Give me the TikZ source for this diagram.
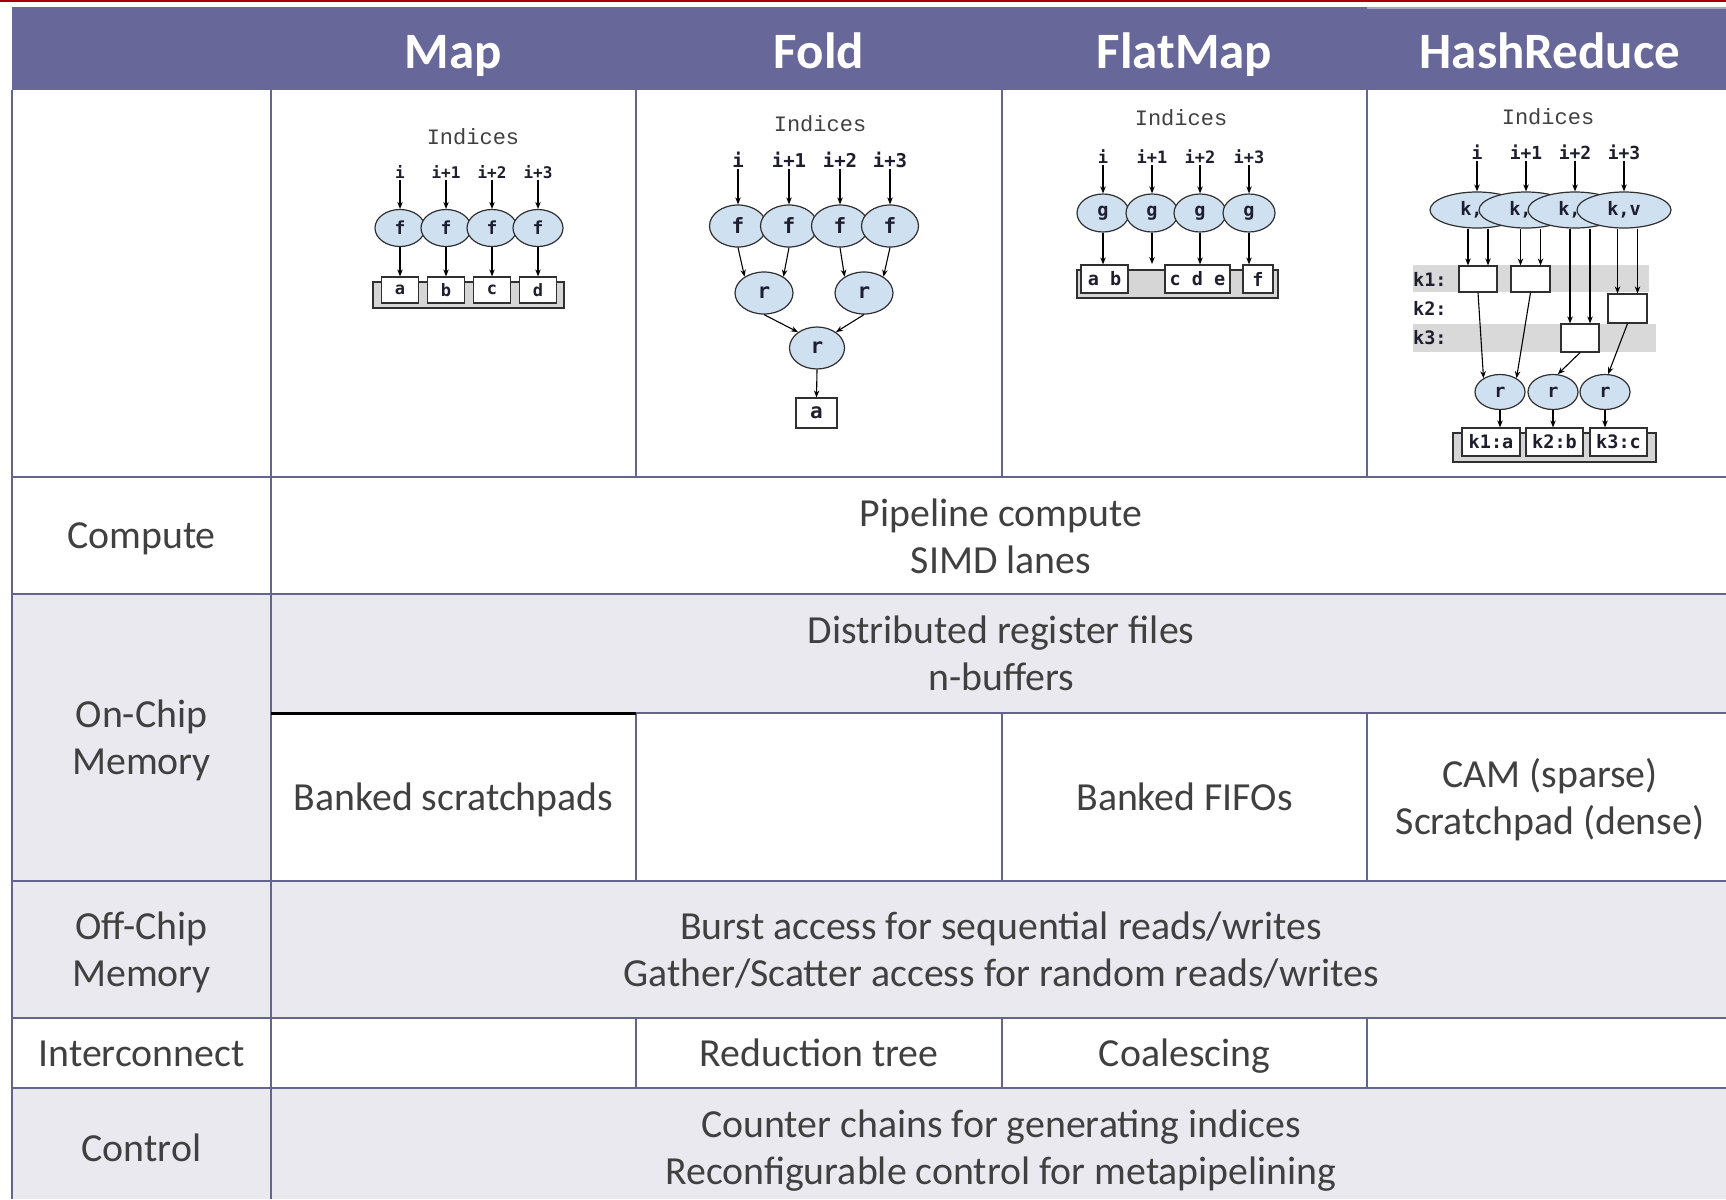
\documentclass[tikz,border=0pt]{standalone}
\usepackage{fontspec}
\setmainfont{Carlito}
\newfontfamily\dmono{DejaVu Sans Mono}
\newfontfamily\cour{Liberation Mono}
\usetikzlibrary{shapes.geometric,arrows.meta,calc}
\definecolor{hdr}{HTML}{676899}
\definecolor{hdrlight}{HTML}{A6A6C4}
\definecolor{grid}{HTML}{64648F}
\definecolor{rowgray}{HTML}{E9E9EF}
\definecolor{txt}{HTML}{404040}
\definecolor{ellfill}{HTML}{CFE0F1}
\definecolor{ellline}{HTML}{303030}
\definecolor{contfill}{HTML}{D6D6D6}
\definecolor{bandgray}{HTML}{D9D9D9}
\definecolor{redline}{HTML}{A80000}
\definecolor{dtxt}{HTML}{1E1E2E}
\tikzset{
  body/.style={font=\fontsize{39.8}{47.5}\selectfont, text=txt, inner sep=0pt, anchor=base},
  head/.style={font=\fontsize{51}{60}\selectfont\bfseries, text=white, inner sep=0pt, anchor=base},
  gline/.style={draw=grid, line width=2pt},
  idx/.style={font=\cour\fontsize{22}{24}\selectfont, text=black!75, inner sep=0pt},
  lab/.style={font=\dmono\bfseries\fontsize{#1}{#1}\selectfont, text=dtxt, inner sep=1pt},
  ell/.style 2 args={ellipse, draw=ellline, fill=ellfill, line width=1.2pt, inner sep=0pt, minimum width=#1, minimum height=#2},
  obox/.style 2 args={draw=ellline, fill=white, line width=1.2pt, inner sep=0pt, minimum width=#1, minimum height=#2},
  cont/.style 2 args={draw=ellline, fill=contfill, line width=1.2pt, inner sep=0pt, minimum width=#1, minimum height=#2},
  arr/.style={-{Stealth[length=7pt,width=5.5pt]}, line width=1.1pt, draw=black},
}
\begin{document}
\begin{tikzpicture}[x=1pt,y=-1pt]
\useasboundingbox (0,0) rectangle (1726,1199);
\fill[white] (0,0) rectangle (1726,1199);
\fill[redline] (0,0) rectangle (1726,2.5);
\fill[hdr] (12,7) rectangle (1726,90);
\fill[hdrlight] (1367,7) rectangle (1726,9.5);
\fill[rowgray] (12,594) rectangle (1726,881);
\fill[white] (271,713) rectangle (1726,881);
\fill[rowgray] (12,881) rectangle (1726,1018);
\fill[rowgray] (12,1088) rectangle (1726,1199);
% grid
\draw[gline] (12,90) -- (12,1199);
\draw[gline] (271,90) -- (271,1199);
\foreach \x in {636,1002,1367} {
  \draw[gline] (\x,90) -- (\x,477);
  \draw[gline] (\x,713) -- (\x,881);
  \draw[gline] (\x,1018) -- (\x,1088);
}
\foreach \y in {477,594,881,1018,1088} \draw[gline] (12,\y) -- (1726,\y);
\draw[gline] (636,713) -- (1726,713);
\draw[line width=3pt, black] (271,713) -- (636,713);
% header
\node[head] (hMap) at (453.5,68) {Map};
\node[head] (hFold) at (819,68) {Fold};
\node[head] (hFlat) at (1184.5,68) {FlatMap};
\node[head] (hHash) at (1550,68) {HashReduce};
% rows
\node[body] (lCompute) at (141.5,548) {Compute};
\node[body] (tCompA) at (1001,526) {Pipeline compute};
\node[body] (tCompB) at (1001,573.5) {SIMD lanes};
\node[body] (lOnA) at (141.5,727) {On-Chip};
\node[body] (lOnB) at (141.5,774.5) {Memory};
\node[body] (tOnA) at (1001,643) {Distributed register files};
\node[body] (tOnB) at (1001,690.5) {n-buffers};
\node[body] (tScr) at (453.5,810) {Banked scratchpads};
\node[body] (tFifo) at (1184.5,810) {Banked FIFOs};
\node[body] (tCamA) at (1550,787) {CAM (sparse)};
\node[body] (tCamB) at (1550,834.5) {Scratchpad (dense)};
\node[body] (lOffA) at (141.5,939) {Off-Chip};
\node[body] (lOffB) at (141.5,986.5) {Memory};
\node[body] (tOffA) at (1001,939) {Burst access for sequential reads/writes};
\node[body] (tOffB) at (1001,986.5) {Gather/Scatter access for random reads/writes};
\node[body] (lInter) at (141.5,1066) {Interconnect};
\node[body] (tRed) at (819,1066) {Reduction tree};
\node[body] (tCoal) at (1184.5,1066) {Coalescing};
\node[body] (lCtrl) at (141.5,1161) {Control};
\node[body] (tCtrlA) at (1001,1137) {Counter chains for generating indices};
\node[body] (tCtrlB) at (1001,1184) {Reconfigurable control for metapipelining};

% ===== Map diagram =====
\node[idx] (mIdx) at (473,137) {Indices};
\node[cont={191pt}{26pt}] (mC) at (468.5,295) {};
\foreach \n/\x/\t/\o in {1/400/i/a,2/446/i+1/b,3/492/i+2/c,4/538/i+3/d} {
  \node[lab=16] (mL\n) at (\x,172) {\t};
  \node[ell={50pt}{37pt}, font=\dmono\bfseries\fontsize{18}{18}\selectfont, text=dtxt] (mF\n) at (\x,228) {f};
  \node[obox={37pt}{26pt}, font=\dmono\bfseries\fontsize{17}{17}\selectfont, text=dtxt] (mB\n) at (\x,290) {\o};
}
\foreach \n in {1,2,3,4} {
  \draw[arr] (mL\n) -- (mF\n);
  \draw[arr] (mF\n.south) -- (mB\n.north);
}

% ===== Fold diagram =====
\node[idx] (fIdx) at (820,124) {Indices};
\foreach \n/\x/\t in {1/738/i,2/789/i+1,3/840/i+2,4/890/i+3} {
  \node[lab=19] (fL\n) at (\x,160) {\t};
  \node[ell={57pt}{42pt}, font=\dmono\bfseries\fontsize{21}{21}\selectfont, text=dtxt] (fF\n) at (\x,226) {f};
}
\foreach \n in {1,2,3,4} \draw[arr] (fL\n) -- (fF\n);
\tikzset{fr/.style={font=\dmono\bfseries\fontsize{21}{21}\selectfont, text=dtxt}}
\node[ell={58pt}{42pt}, fr] (fR1) at (764,293) {r};
\node[ell={58pt}{42pt}, fr] (fR2) at (864,293) {r};
\node[ell={55pt}{42pt}, fr] (fR3) at (817,348) {r};
\node[obox={41pt}{30pt}, fr] (fOut) at (816.5,413) {a};
\draw[arr] (fF1.south) -- (fR1.140);
\draw[arr] (fF2.south) -- (fR1.40);
\draw[arr] (fF3.south) -- (fR2.140);
\draw[arr] (fF4.south) -- (fR2.40);
\draw[arr] (fR1.south) -- (fR3.140);
\draw[arr] (fR2.south) -- (fR3.40);
\draw[arr] (fR3.south) -- (fOut.north);

% ===== FlatMap diagram =====
\node[idx] (gIdx) at (1181,118) {Indices};
\tikzset{gr/.style={font=\dmono\bfseries\fontsize{18.5}{18.5}\selectfont, text=dtxt}}
\node[cont={201pt}{28pt}] (gC) at (1177.5,284) {};
\node[obox={47pt}{28pt}, gr] (gB1) at (1104.5,279) {a b};
\node[obox={65pt}{28pt}, gr] (gB3) at (1197.5,279) {c d e};
\node[obox={30pt}{28pt}, gr] (gB4) at (1258,279) {f};
\foreach \n/\x/\t in {1/1103/i,2/1152/i+1,3/1200/i+2,4/1249/i+3} {
  \node[lab=17] (gL\n) at (\x,157) {\t};
  \node[ell={52pt}{38pt}, gr] (gE\n) at (\x,213) {g};
}
\foreach \n in {1,2,3,4} \draw[arr] (gL\n) -- (gE\n);
\coordinate (gEnd2) at (1152,264);
\draw[arr] (gE1.south) -- (gE1.south |- gB1.north);
\draw[arr] (gE2.south) -- (gEnd2);
\draw[arr] (gE3.south) -- (gE3.south |- gB3.north);
\draw[arr] (gE4.south) -- (gE4.south |- gB4.north);

% ===== HashReduce diagram =====
\node[idx] (hIdx) at (1548,117) {Indices};
\tikzset{hr/.style={font=\dmono\bfseries\fontsize{18.5}{18.5}\selectfont, text=dtxt}}
\fill[bandgray] (1413,265) rectangle (1649,292);
\fill[bandgray] (1413,324) rectangle (1656,352);
\node[hr, anchor=west, inner sep=0pt] (hk1) at (1413,279) {k1:};
\node[hr, anchor=west, inner sep=0pt] (hk2) at (1413,308) {k2:};
\node[hr, anchor=west, inner sep=0pt] (hk3) at (1413,338) {k3:};
\foreach \n/\x/\t in {1/1477/i,2/1526/i+1,3/1575/i+2,4/1624/i+3} {
  \node[lab=18] (hL\n) at (\x,152) {\t};
  \node[ell={94pt}{36pt}, hr] (hK\n) at (\x,210) {k,v};
}
\foreach \n in {1,2,3,4} \draw[arr] (hL\n) -- (hK\n);
\node[obox={38pt}{26pt}] (hb1) at (1478,279) {};
\node[obox={39pt}{26pt}] (hb2) at (1530.5,279) {};
\node[obox={39pt}{29pt}] (hbk2) at (1627.5,308.5) {};
\node[obox={38pt}{28pt}] (hbk3) at (1580,338) {};
\foreach \b/\k in {hb1/hK1,hb2/hK2,hbk3/hK3,hbk2/hK4} {
  \draw[arr] ($(\b.north |- \k.south)+(-10,0)$) -- ($(\b.north)+(-10,0)$);
  \draw[arr] ($(\b.north |- \k.south)+(10,0)$) -- ($(\b.north)+(10,0)$);
}
\node[cont={203pt}{29pt}] (hC) at (1554.5,447.5) {};
\node[ell={50pt}{35pt}, hr] (hR1) at (1500,392) {r};
\node[ell={50pt}{35pt}, hr] (hR2) at (1553,392) {r};
\node[ell={50pt}{35pt}, hr] (hR3) at (1605,392) {r};
\draw[arr] (hb1.south) -- (hR1.140);
\draw[arr] (hb2.south) -- (hR1.40);
\draw[arr] (hbk3.south) -- (hR2.75);
\draw[arr] (hbk2.south) -- (hR3.80);
\node[obox={58pt}{28pt}, hr] (hO1) at (1491,442) {k1:a};
\node[obox={57pt}{28pt}, hr] (hO2) at (1554.5,442) {k2:b};
\node[obox={57pt}{28pt}, hr] (hO3) at (1618.5,442) {k3:c};
\draw[arr] (hR1.south) -- (hR1.south |- hO1.north);
\draw[arr] (hR2.south) -- (hR2.south |- hO2.north);
\draw[arr] (hR3.south) -- (hR3.south |- hO3.north);
\end{tikzpicture}
\end{document}
